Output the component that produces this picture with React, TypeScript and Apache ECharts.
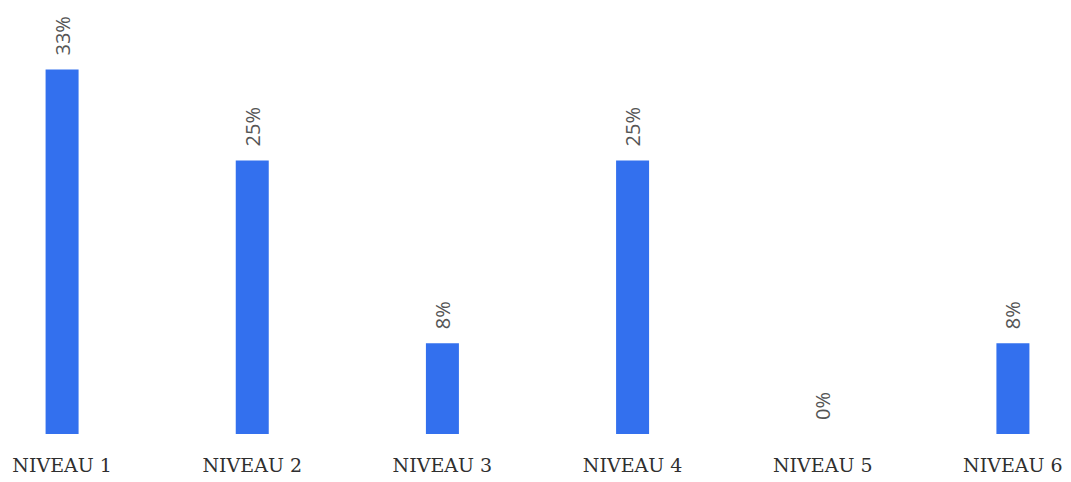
import React, { useEffect, useRef } from "react";
import * as echarts from "echarts";

const categories = ["NIVEAU 1", "NIVEAU 2", "NIVEAU 3", "NIVEAU 4", "NIVEAU 5", "NIVEAU 6"];
const values = [33.3, 25, 8.3, 25, 0, 8.3];

export default function App() {
  const ref = useRef<HTMLDivElement>(null);
  useEffect(() => {
    if (!ref.current) return;
    const chart = echarts.init(ref.current, undefined, { renderer: "svg" });
    chart.setOption({
      animation: false,
      backgroundColor: "#ffffff",
      grid: { left: 0, right: 0, top: 40, bottom: 48, containLabel: false },
      xAxis: {
        type: "category",
        data: categories,
        axisLine: { show: false },
        axisTick: { show: false },
        axisLabel: {
          color: "#2f2f2f",
          fontFamily: "DejaVu Serif",
          fontSize: 19,
          margin: 21,
        },
      },
      yAxis: {
        type: "value",
        min: 0,
        max: 36,
        show: false,
        splitLine: { show: false },
      },
      series: [
        {
          type: "bar",
          data: values,
          barWidth: 33,
          itemStyle: { color: "#3370ee" },
          label: {
            show: true,
            position: "top",
            rotate: 90,
            align: "left",
            verticalAlign: "middle",
            distance: 14,
            color: "#555555",
            fontFamily: "Open Sans",
            fontSize: 20,
            formatter: (p: any) => Math.round(p.value) + "%",
          },
        },
      ],
    });
    return () => chart.dispose();
  }, []);
  return (
    <div style={{ position: "fixed", left: 0, top: 0, width: 1071, height: 482, overflow: "hidden", background: "#fff" }}>
      <div ref={ref} style={{ position: "absolute", left: -33, top: 0, width: 1141, height: 482 }} />
    </div>
  );
}
